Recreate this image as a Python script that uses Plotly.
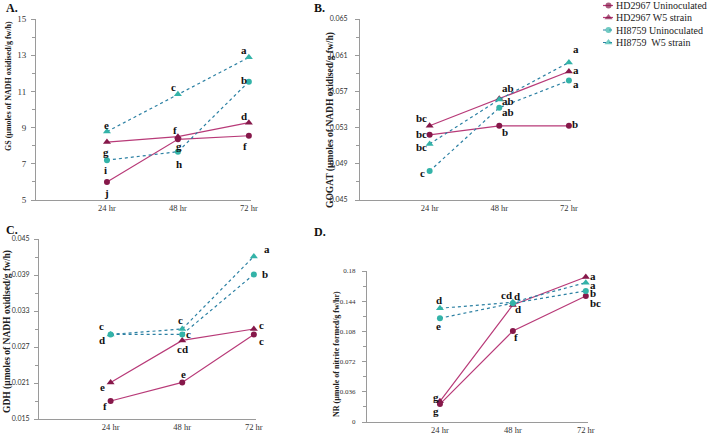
import plotly.graph_objects as go

# ---------------- data ----------------
times = ["24 hr", "48 hr", "72 hr"]
series_names = ["HD2967 Uninoculated", "HD2967 W5 strain", "HI8759 Uninoculated", "HI8759  W5 strain"]

gs_hd_un = [6.0, 8.35, 8.55]
gs_hd_w5 = [8.2, 8.5, 9.27]
gs_hi_un = [7.2, 7.67, 11.54]
gs_hi_w5 = [8.78, 10.84, 12.88]
gs_letters_hd_un = ["j", "g", "f"]
gs_letters_hd_w5 = ["g", "f", "d"]
gs_letters_hi_un = ["i", "h", "b"]
gs_letters_hi_w5 = ["e", "c", "a"]

gogat_hd_un = [0.0522, 0.0532, 0.0532]
gogat_hd_w5 = [0.0532, 0.0562, 0.0592]
gogat_hi_un = [0.0482, 0.0552, 0.0582]
gogat_hi_w5 = [0.0512, 0.0561, 0.0602]
gogat_letters_hd_un = ["bc", "b", "b"]
gogat_letters_hd_w5 = ["bc", "ab", "a"]
gogat_letters_hi_un = ["c", "ab", "a"]
gogat_letters_hi_w5 = ["bc", "ab", "a"]

gdh_hd_un = [0.0180, 0.0211, 0.0291]
gdh_hd_w5 = [0.0211, 0.0281, 0.0300]
gdh_hi_un = [0.0291, 0.0291, 0.0391]
gdh_hi_w5 = [0.0291, 0.0300, 0.0421]
gdh_letters_hd_un = ["f", "e", "c"]
gdh_letters_hd_w5 = ["e", "cd", "c"]
gdh_letters_hi_un = ["d", "c", "b"]
gdh_letters_hi_w5 = ["c", "c", "a"]

nr_hd_un = [0.0214, 0.1086, 0.1503]
nr_hd_w5 = [0.0246, 0.1396, 0.1729]
nr_hi_un = [0.1237, 0.1416, 0.1562]
nr_hi_w5 = [0.1356, 0.1427, 0.1661]
nr_letters_hd_un = ["g", "f", "bc"]
nr_letters_hd_w5 = ["g", "d", "a"]
nr_letters_hi_un = ["e", "d", "b"]
nr_letters_hi_w5 = ["d", "cd", "a"]

# ---------------- styles ----------------
W, H = 708, 435
SERIF = "Liberation Serif"
SANS = "Lato"
HD_MARK, HD_LINE = "#86184a", "#b83a78"
HI_MARK, HI_LINE = "#33b3a8", "#2c80a3"
AXIS_C = "#9a9a9a"
styles = [
    dict(mc=HD_MARK, lc=HD_LINE, sym="circle", size=6, dash="solid"),
    dict(mc=HD_MARK, lc=HD_LINE, sym="triangle-up", size=7, dash="solid"),
    dict(mc=HI_MARK, lc=HI_LINE, sym="circle", size=6, dash="dot"),
    dict(mc=HI_MARK, lc=HI_LINE, sym="triangle-up", size=7, dash="dot"),
]

def px_x(a, b):
    return [a / W, b / W]

def px_y(top, bottom):
    return [1 - bottom / H, 1 - top / H]

panels = [
    dict(data=[gs_hd_un, gs_hd_w5, gs_hi_un, gs_hi_w5],
         letters=[gs_letters_hd_un, gs_letters_hd_w5, gs_letters_hi_un, gs_letters_hi_w5],
         offs=[[(0, -11), (1, -7), (-4, -10)],
               [(-1, -10), (-3, 7), (-5, 7)],
               [(-1, -10), (1, -12), (-5, 2)],
               [(0, 7), (-4, 7), (-5, 7)]],
         xd=px_x(36, 251), yd=px_y(19, 200), yr=[5, 15], dt=2, mdt=1,
         tickfont=dict(family=SERIF, size=9, color="#333"), standoff=3,
         tfmt="", title="GS (µmoles of NADH oxidised/g fw/h)", tsize=8,
         tx=8, ty=86, lbl="A.", lx=8, ly=8),
    dict(data=[gogat_hd_un, gogat_hd_w5, gogat_hi_un, gogat_hi_w5],
         letters=[gogat_letters_hd_un, gogat_letters_hd_w5, gogat_letters_hi_un, gogat_letters_hi_w5],
         offs=[[(-8, 1), (6, -6), (6, 2)],
               [(-8, 8), (9, -2), (7, 1)],
               [(-7, -2), (9, -4), (7, -3)],
               [(-8, -3), (9, 12), (7, 13)]],
         xd=px_x(360, 571), yd=px_y(19, 200), yr=[0.045, 0.065], dt=0.004, mdt=0.002,
         tickfont=dict(family=SANS, size=7, color="#333"), standoff=6,
         tfmt=".3f", title="GOGAT (µmoles of NADH oxidised/g fw/h)", tsize=9.5,
         tx=330, ty=120, lbl="B.", lx=316, ly=8),
    dict(data=[gdh_hd_un, gdh_hd_w5, gdh_hi_un, gdh_hi_w5],
         letters=[gdh_letters_hd_un, gdh_letters_hd_w5, gdh_letters_hi_un, gdh_letters_hi_w5],
         offs=[[(-6, -5), (1, 8), (8, -7)],
               [(-8, -5), (0, -9), (8, 4)],
               [(-9, -6), (6, 0), (11, 0)],
               [(-9, 8), (-2, 9), (13, 7)]],
         xd=px_x(39, 256), yd=px_y(239, 419), yr=[0.015, 0.045], dt=0.006, mdt=0.003,
         tickfont=dict(family=SANS, size=7, color="#333"), standoff=3,
         tfmt=".3f", title="GDH (µmoles of NADH oxidised/g fw/h)", tsize=9.5,
         tx=7, ty=332, lbl="C.", lx=8, ly=230),
    dict(data=[nr_hd_un, nr_hd_w5, nr_hi_un, nr_hi_w5],
         letters=[nr_letters_hd_un, nr_letters_hd_w5, nr_letters_hi_un, nr_letters_hi_w5],
         offs=[[(-4, -7), (3, -6), (10, -7)],
               [(-4, 4), (5, -4), (7, 1)],
               [(-1, -8), (4, 7), (7, -2)],
               [(-1, 8), (-6, 7), (7, -2)]],
         xd=px_x(367, 588), yd=px_y(271, 422), yr=[0, 0.18], dt=0.036, mdt=0.018,
         tickfont=dict(family=SERIF, size=7, color="#333"), standoff=5,
         tfmt="", title="NR (µmole of nitrite formed/g fw/hr)", tsize=8,
         tx=336, ty=354, lbl="D.", lx=316, ly=232),
]

fig = go.Figure()
annotations = []
layout = dict(width=W, height=H, margin=dict(l=0, r=0, t=0, b=0),
              paper_bgcolor="white", plot_bgcolor="rgba(0,0,0,0)", showlegend=False)

for i, p in enumerate(panels, start=1):
    xa = "x" if i == 1 else f"x{i}"
    ya = "y" if i == 1 else f"y{i}"
    for k, (vals, st) in enumerate(zip(p["data"], styles)):
        fig.add_trace(go.Scatter(
            x=times, y=vals, xaxis=xa, yaxis=ya, mode="lines+markers",
            name=series_names[k], cliponaxis=False,
            line=dict(color=st["lc"], width=1.2, dash=st["dash"]),
            marker=dict(color=st["mc"], symbol=st["sym"], size=st["size"],
                        line=dict(width=0))))
        for j, (letter, (dx, dy)) in enumerate(zip(p["letters"][k], p["offs"][k])):
            annotations.append(dict(
                x=times[j], y=vals[j], xref=xa, yref=ya, text=f"<b>{letter}</b>",
                showarrow=False, xshift=dx, yshift=dy, xanchor="center", yanchor="middle",
                font=dict(family=SERIF, size=11, color="#111")))
    key_x = "xaxis" if i == 1 else f"xaxis{i}"
    key_y = "yaxis" if i == 1 else f"yaxis{i}"
    layout[key_x] = dict(
        domain=p["xd"], anchor=ya, type="category", categoryorder="array",
        categoryarray=times, range=[-1, 2.03], showline=True, linecolor=AXIS_C,
        linewidth=1, showgrid=False, zeroline=False, ticks="", automargin=False,
        tickfont=dict(family=SERIF, size=8.5, color="#333"), fixedrange=True)
    layout[key_y] = dict(
        domain=p["yd"], anchor=xa, range=p["yr"], showline=True, linecolor=AXIS_C,
        linewidth=1, showgrid=False, zeroline=False, ticks="outside", ticklen=4,
        tickcolor=AXIS_C, tick0=p["yr"][0], dtick=p["dt"], tickformat=p["tfmt"],
        tickfont=p["tickfont"], ticklabelstandoff=p["standoff"], automargin=False,
        minor=dict(ticks="outside", ticklen=3, dtick=p["mdt"], tick0=p["yr"][0],
                   tickcolor=AXIS_C), fixedrange=True)
    annotations.append(dict(
        x=p["tx"] / W, y=1 - p["ty"] / H, xref="paper", yref="paper",
        text=f"<b>{p['title']}</b>", textangle=-90, showarrow=False,
        xanchor="center", yanchor="middle",
        font=dict(family=SERIF, size=p["tsize"], color="#222")))
    annotations.append(dict(
        x=p["lx"] / W, y=1 - p["ly"] / H, xref="paper", yref="paper",
        text=f"<b>{p['lbl']}</b>", showarrow=False, xanchor="left", yanchor="middle",
        font=dict(family=SERIF, size=12, color="#111"), xshift=-4))

# ---------------- legend (manual, pixel-scaled helper axis) ----------------
legend_rows = [5.5, 17.5, 30.0, 42.5]
for k, (name, st, ry) in enumerate(zip(series_names, styles, legend_rows)):
    fig.add_trace(go.Scatter(
        x=[603, 608.5, 613], y=[ry, ry, ry], xaxis="x5", yaxis="y5",
        mode="lines+markers", cliponaxis=False,
        line=dict(color=st["lc"], width=1.2, dash="solid" if st["dash"] == "solid" else "dot"),
        marker=dict(color=st["mc"], symbol=st["sym"], size=[0, st["size"], 0], line=dict(width=0))))
    annotations.append(dict(
        x=613.5, y=ry, xref="x5", yref="y5", text=name, showarrow=False,
        xanchor="left", yanchor="middle",
        font=dict(family=SERIF, size=10, color="#222")))
layout["xaxis5"] = dict(domain=[0, 1], range=[0, W], visible=False, anchor="y5", fixedrange=True)
layout["yaxis5"] = dict(domain=[0, 1], range=[H, 0], visible=False, anchor="x5", fixedrange=True)

layout["annotations"] = annotations
fig.update_layout(**layout)
fig.write_html("out.html")
